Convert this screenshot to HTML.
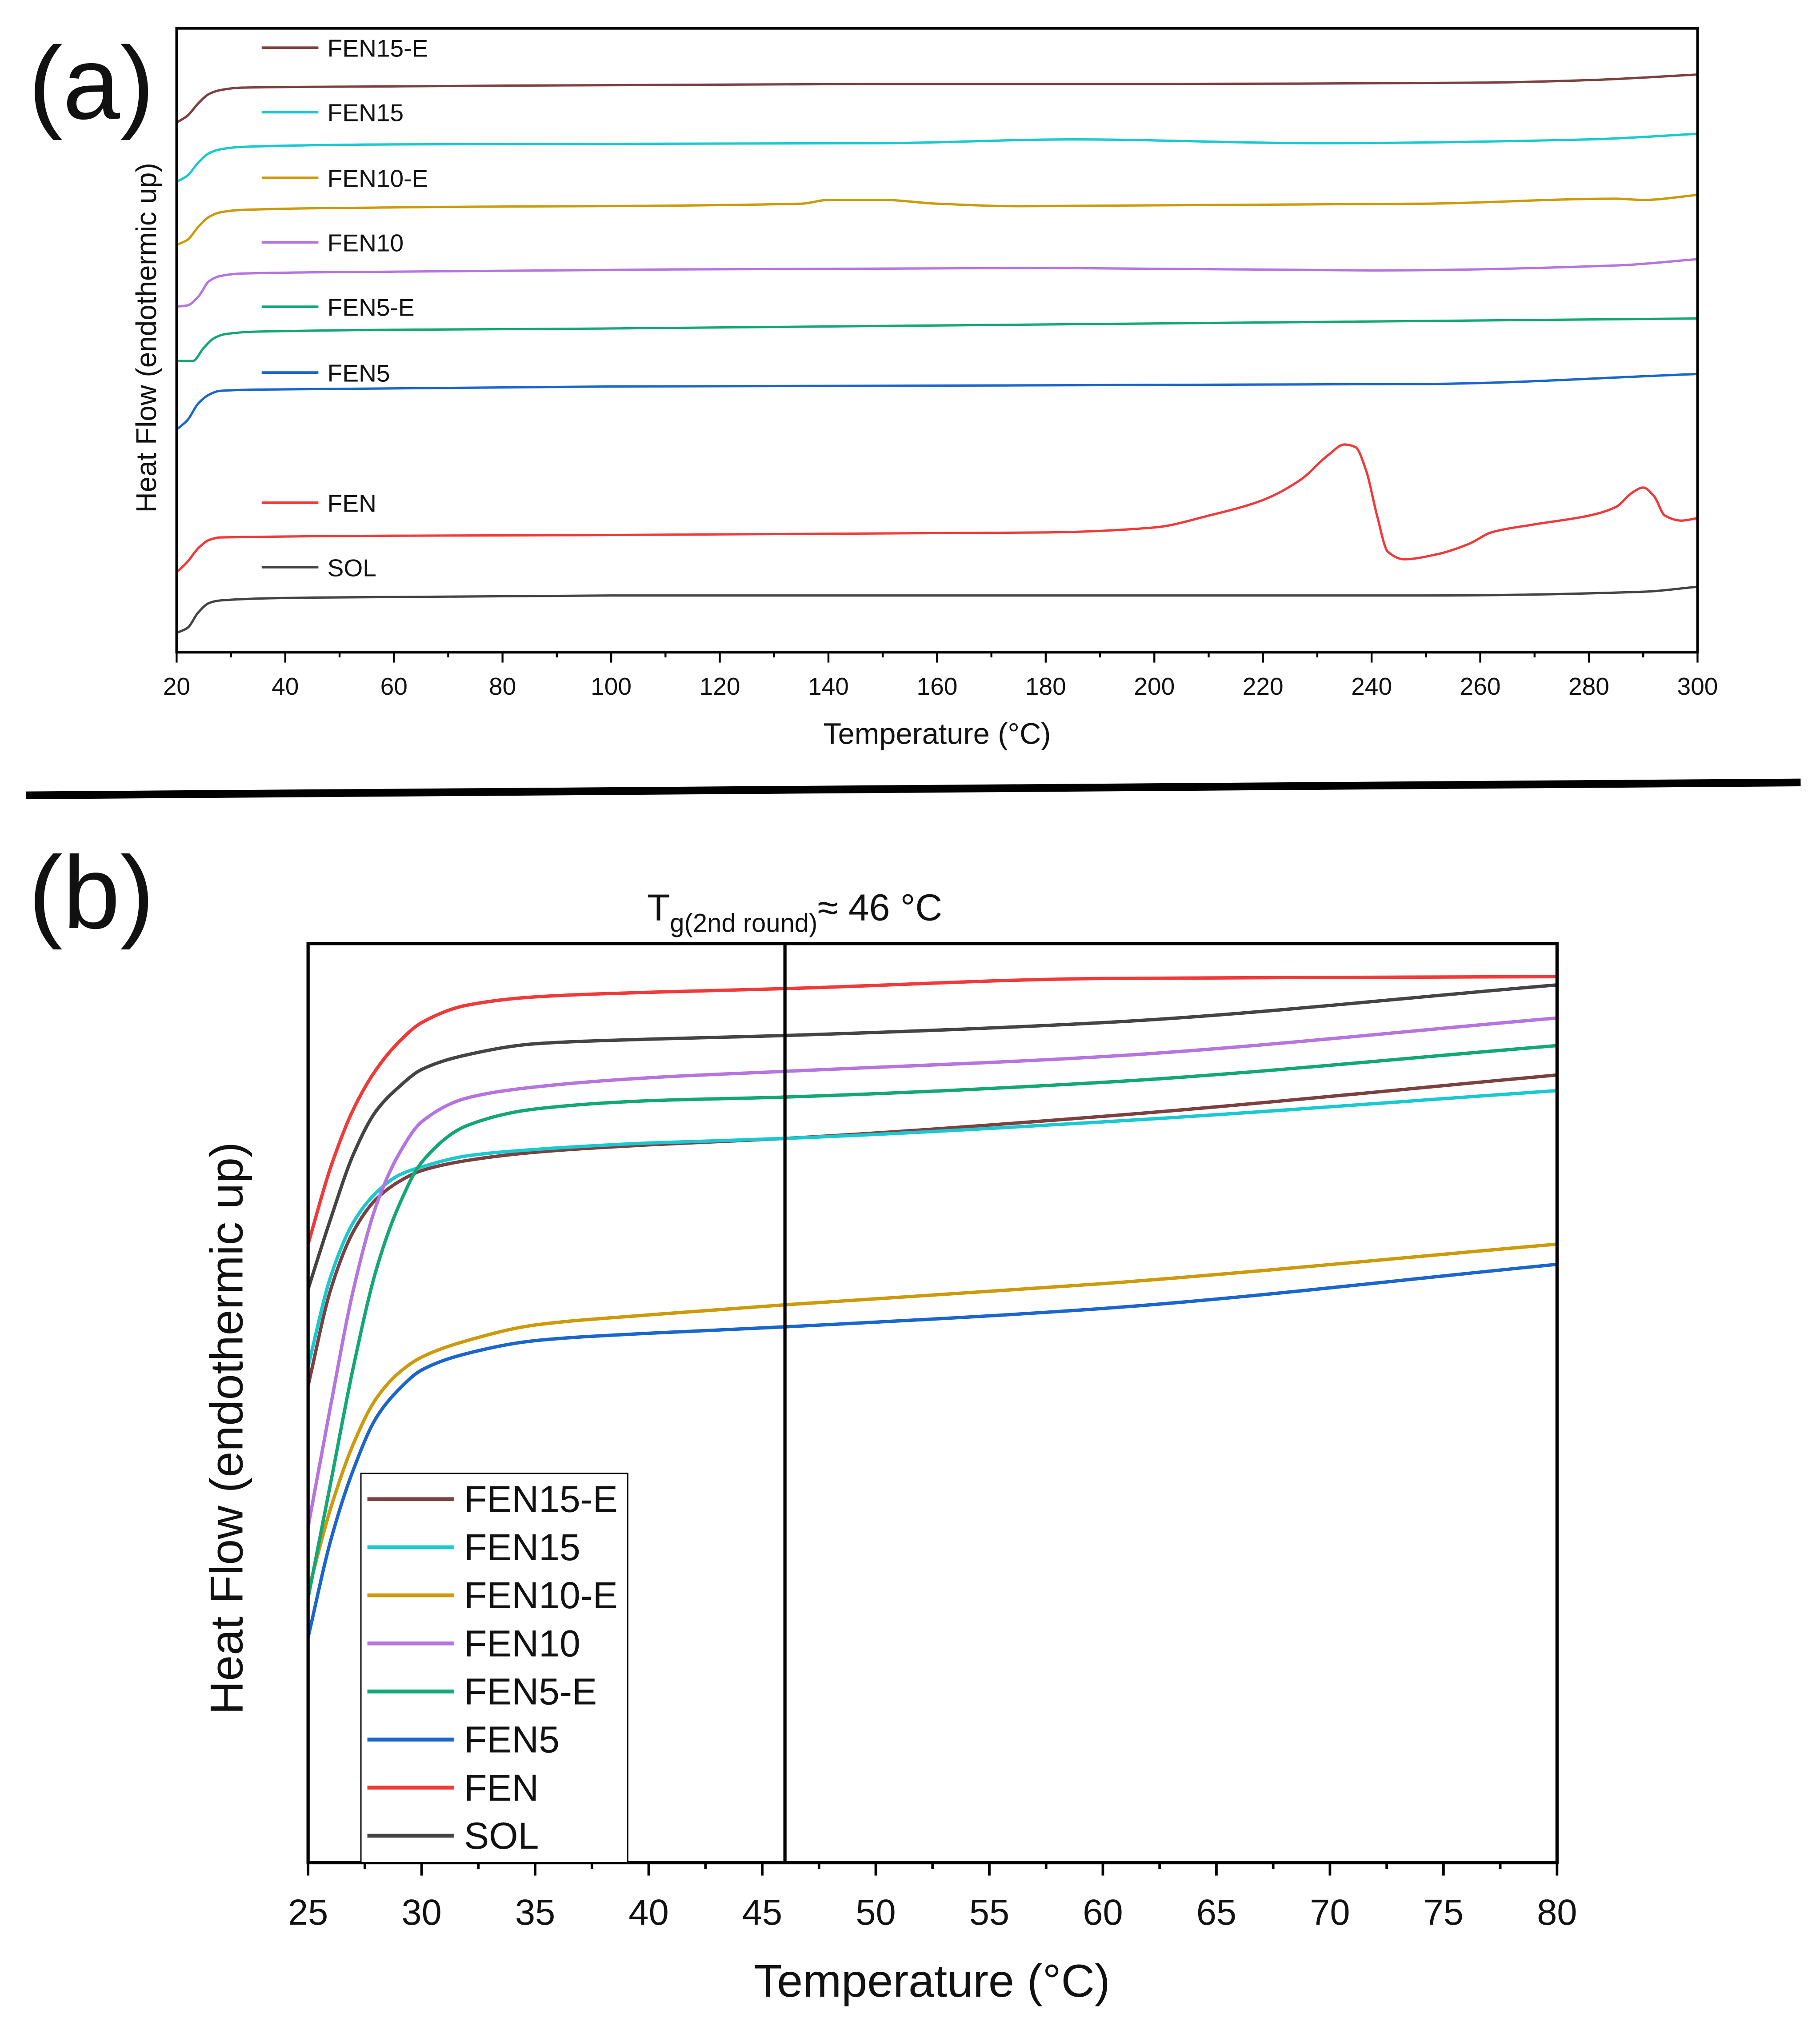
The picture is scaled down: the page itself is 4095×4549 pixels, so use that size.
<!DOCTYPE html>
<html><head><meta charset="utf-8"><style>
html,body{margin:0;padding:0;background:#fff;}
svg{display:block;}
text{font-family:"Liberation Sans",sans-serif;fill:#111;}
</style></head><body>
<svg id="fig" width="4095" height="4549" viewBox="0 0 1412 1568.6" xmlns="http://www.w3.org/2000/svg">
<rect width="1412" height="1568.6" fill="#fff"/>
<g id="pa"></g>
<g id="pb"></g>
<line x1="20" y1="617" x2="1397" y2="607" stroke="#000" stroke-width="6"/>
<text x="22" y="92" font-size="80">(a)</text>
<text x="22" y="720" font-size="80">(b)</text>
</svg>
<script>
const NS="http://www.w3.org/2000/svg";
// ---------- Panel (a) data ----------
const seriesNames=["FEN15-E","FEN15","FEN10-E","FEN10","FEN5-E","FEN5","FEN","SOL"];
const seriesColors=["#7d4040","#19c9d2","#cc9a0a","#b674e0","#12a874","#1a66cc","#f03a3a","#444444"];
const aXTicks=[20,40,60,80,100,120,140,160,180,200,220,240,260,280,300];
const aT_FEN15E=[20,22,24,26,28,32,60,150,200,260,280,300];
const aV_FEN15E=[84.9,86.0,88.0,89.5,90.1,90.5,90.7,91.1,91.1,91.3,91.7,92.6];
const aT_FEN15=[20,22,24,26,28,32,60,150,185,230,280,300];
const aV_FEN15=[75.4,76.4,78.5,80.0,80.6,81.0,81.4,81.6,82.2,81.6,82.2,83.1];
const aT_FEN10E=[20,22,24,26,28,32,60,135,140,150,160,175,250,285,290,300];
const aV_FEN10E=[65.3,66.1,68.2,69.8,70.5,70.9,71.3,71.9,72.5,72.5,71.9,71.5,71.9,72.7,72.5,73.3];
const aT_FEN10=[20,22,24,26,28,32,60,180,240,285,300];
const aV_FEN10=[55.4,55.6,57.0,59.5,60.3,60.7,61.0,61.6,61.2,62.0,63.0];
const aT_FEN5E=[20,23,25,27,29,35,100,300];
const aV_FEN5E=[46.7,46.7,48.8,50.4,51.0,51.4,51.9,53.5];
const aT_FEN5=[20,22,24,26,28,35,100,250,300];
const aV_FEN5=[35.7,37.2,39.9,41.3,41.9,42.1,42.6,43.0,44.6];
const aT_FEN=[20,22,24,26,28,100,180,200,210,220,227,232,235,237,239,241,243,246,252,258,262,270,280,285,288,290,292,294,297,300];
const aV_FEN=[12.8,14.5,16.7,18.0,18.4,18.8,19.2,20.0,21.9,24.4,27.7,31.6,33.3,32.9,29.1,21.9,16.1,14.9,15.7,17.4,19.2,20.5,21.9,23.3,25.6,26.4,25.0,21.9,21.1,21.5];
const aT_SOL=[20,22,24,26,28,40,100,250,290,300];
const aV_SOL=[3.1,3.9,6.4,7.9,8.3,8.7,9.1,9.1,9.7,10.5];
const aT=[aT_FEN15E,aT_FEN15,aT_FEN10E,aT_FEN10,aT_FEN5E,aT_FEN5,aT_FEN,aT_SOL];
const aV=[aV_FEN15E,aV_FEN15,aV_FEN10E,aV_FEN10,aV_FEN5E,aV_FEN5,aV_FEN,aV_SOL];
// ---------- Panel (b) data ----------
const bXTicks=[25,30,35,40,45,50,55,60,65,70,75,80];
const bT=[25,26,27,28,29,30,32,35,40,46,60,80];
const bV_FEN15E=[51.9,62.4,68.7,72.2,74.1,75.3,76.4,77.3,78.1,78.8,81.2,85.7];
const bV_FEN15=[54.0,63.8,69.7,72.9,74.8,75.7,76.9,77.6,78.3,78.8,80.6,84.0];
const bV_FEN10E=[29.5,38.6,45.6,50.5,53.3,55.0,56.8,58.5,59.6,60.7,63.0,67.3];
const bV_FEN10=[36.5,49.8,62.4,71.5,77.1,80.6,83.2,84.4,85.4,86.1,87.7,91.9];
const bV_FEN5E=[28.8,41.4,54.0,64.5,71.5,76.2,80.2,82.0,82.9,83.3,84.9,88.9];
const bV_FEN5=[24.5,35.1,42.8,48.4,51.5,53.6,55.4,56.8,57.6,58.3,60.3,65.1];
const bV_FEN=[67.3,75.7,82.0,86.3,89.3,91.4,93.3,94.2,94.7,95.1,96.2,96.4];
const bV_SOL=[62.4,70.1,77.1,81.8,84.4,86.3,87.9,89.1,89.6,90.0,91.4,95.5];
const bV=[bV_FEN15E,bV_FEN15,bV_FEN10E,bV_FEN10,bV_FEN5E,bV_FEN5,bV_FEN,bV_SOL];
const tgValue=46;

function el(tag,attrs,parent){const e=document.createElementNS(NS,tag);for(const k in attrs)e.setAttribute(k,attrs[k]);parent.appendChild(e);return e;}
// monotone cubic (Fritsch-Carlson) path through points sorted by x
function smoothPath(pts){
 const n=pts.length,dx=[],m=[],t=new Array(n);
 for(let i=0;i<n-1;i++){dx[i]=pts[i+1][0]-pts[i][0];m[i]=(pts[i+1][1]-pts[i][1])/dx[i];}
 t[0]=m[0];t[n-1]=m[n-2];
 for(let i=1;i<n-1;i++){ if(m[i-1]*m[i]<=0)t[i]=0; else {const w1=2*dx[i]+dx[i-1],w2=dx[i]+2*dx[i-1];t[i]=(w1+w2)/(w1/m[i-1]+w2/m[i]);}}
 let d="M"+pts[0][0].toFixed(2)+","+pts[0][1].toFixed(2);
 for(let i=0;i<n-1;i++){const h=dx[i]/3;
  d+="C"+(pts[i][0]+h).toFixed(2)+","+(pts[i][1]+t[i]*h).toFixed(2)+" "+(pts[i+1][0]-h).toFixed(2)+","+(pts[i+1][1]-t[i+1]*h).toFixed(2)+" "+pts[i+1][0].toFixed(2)+","+pts[i+1][1].toFixed(2);}
 return d;}

// ---------- draw panel a ----------
(function(){
const g=document.getElementById('pa');
const L=137,R=1317,T=22,B=506;
const x=t=>L+(t-20)/(280)*(R-L);
const y=v=>B-v/100*(B-T);
for(let i=0;i<aT.length;i++){
 const p=el('path',{d:smoothPath(aT[i].map((t,j)=>[x(t),y(aV[i][j])])),fill:"none",stroke:seriesColors[i],"stroke-width":1.8},g);
 
 
}
const box=el('rect',{x:L,y:T,width:R-L,height:B-T,fill:"none",stroke:"#000","stroke-width":2},g);

for(let t=20;t<=300;t+=10){const maj=(t%20===0);
 const tk=el('line',{x1:x(t),x2:x(t),y1:B,y2:B+(maj?8:4),stroke:"#000","stroke-width":1.5},g);
 }
aXTicks.forEach(t=>{const tx=el('text',{x:x(t),y:539,"font-size":19,"text-anchor":"middle"},g);tx.textContent=t;
 });
const xt=el('text',{x:727,y:577,"font-size":23,"text-anchor":"middle"},g);xt.textContent="Temperature (°C)";

const yt=el('text',{x:0,y:0,"font-size":22,"text-anchor":"middle",transform:"translate(121,262) rotate(-90)"},g);yt.textContent="Heat Flow (endothermic up)";

const ly=[37,87,138,188,238,289,390,440];
for(let i=0;i<8;i++){
 const ln=el('line',{x1:203,x2:247,y1:ly[i],y2:ly[i],stroke:seriesColors[i],"stroke-width":2},g);
 
 const tx=el('text',{x:254,y:ly[i]+7,"font-size":19},g);tx.textContent=seriesNames[i];
 
}
})();

// ---------- draw panel b ----------
(function(){
const g=document.getElementById('pb');
const L=239,R=1208,T=732,B=1445;
const x=t=>L+(t-25)/55*(R-L);
const y=v=>B-v/100*(B-T);
for(let i=0;i<bV.length;i++){
 const p=el('path',{d:smoothPath(bT.map((t,j)=>[x(t),y(bV[i][j])])),fill:"none",stroke:seriesColors[i],"stroke-width":2.6},g);
 
 
}
const tg=el('line',{x1:x(tgValue),x2:x(tgValue),y1:T,y2:B,stroke:"#000","stroke-width":2.5},g);

const box=el('rect',{x:L,y:T,width:R-L,height:B-T,fill:"none",stroke:"#000","stroke-width":2.5},g);

for(let t=25;t<=80;t+=2.5){const maj=((t-25)%5===0);
 const tk=el('line',{x1:x(t),x2:x(t),y1:B,y2:B+(maj?10:5),stroke:"#000","stroke-width":2},g);
 }
bXTicks.forEach(t=>{const tx=el('text',{x:x(t),y:1493,"font-size":28,"text-anchor":"middle"},g);tx.textContent=t;
 });
const xt=el('text',{x:723,y:1549,"font-size":36,"text-anchor":"middle"},g);xt.textContent="Temperature (°C)";

const yt=el('text',{x:0,y:0,"font-size":36,"text-anchor":"middle",transform:"translate(188,1108) rotate(-90)"},g);yt.textContent="Heat Flow (endothermic up)";

const an=el('text',{x:502,y:714,"font-size":29},g);

an.innerHTML='T<tspan font-size="20" dy="9">g(2nd round)</tspan><tspan dy="-9">≈ 46 °C</tspan>';
const lb=el('rect',{x:280,y:1143,width:207,height:302,fill:"#fff",stroke:"#000","stroke-width":1},g);

for(let i=0;i<8;i++){const yy=1163+i*37.3;
 const ln=el('line',{x1:285,x2:352,y1:yy,y2:yy,stroke:seriesColors[i],"stroke-width":3},g);
 
 const tx=el('text',{x:360,y:yy+10,"font-size":29},g);tx.textContent=seriesNames[i];
 
}
})();
</script>
</body></html>
